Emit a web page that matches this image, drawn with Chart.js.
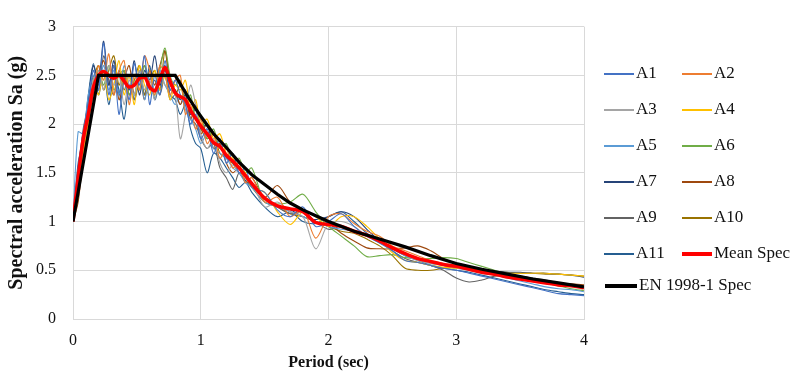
<!DOCTYPE html>
<html>
<head>
<meta charset="utf-8">
<title>Response spectra</title>
<script src="https://cdn.jsdelivr.net/npm/chart.js@4.4.0/dist/chart.umd.min.js"></script>
<style>
  body { margin: 0; background: #fff; }
  #wrap { position: relative; width: 792px; height: 374px; }
  #legend { position: absolute; left: 0; top: 0; font-family: "Liberation Serif", serif; font-size: 17px; color: #111; }
  .item { position: absolute; height: 20px; line-height: 20px; white-space: nowrap; }
  .item span.line { display: inline-block; vertical-align: middle; margin-right: 2px; }
</style>
</head>
<body>
<div id="wrap">
  <canvas id="spectra"></canvas>
  <div id="legend"></div>
</div>
<script>
// periods (sec) shared by the records and the mean spectrum
var periods = [0, 0.04, 0.08, 0.12, 0.16, 0.2, 0.24, 0.28, 0.32, 0.36,
  0.4, 0.44, 0.48, 0.52, 0.56, 0.6, 0.64, 0.68, 0.72, 0.76,
  0.8, 0.84, 0.88, 0.92, 0.96, 1.0, 1.05, 1.1, 1.15, 1.2,
  1.25, 1.3, 1.35, 1.4, 1.5, 1.6, 1.7, 1.8, 1.9, 2.0,
  2.1, 2.2, 2.3, 2.4, 2.5, 2.6, 2.7, 2.8, 2.9, 3.0,
  3.1, 3.2, 3.3, 3.4, 3.5, 3.6, 3.7, 3.8, 3.9, 4.0];

var recordNames = ["A1", "A2", "A3", "A4", "A5", "A6", "A7", "A8", "A9", "A10", "A11"];

var A1 = [1.0, 1.55, 1.92, 2.2, 2.55, 2.35, 2.83, 2.3, 2.6, 2.1,
  2.45, 2.25, 2.62, 2.4, 2.7, 2.2, 2.5, 2.3, 2.65, 2.35,
  2.45, 2.3, 2.2, 2.0, 2.1, 1.85, 1.95, 1.7, 1.85, 1.6,
  1.7, 1.5, 1.55, 1.35, 1.3, 1.12, 1.05, 1.15, 0.95, 1.0,
  1.08, 0.95, 0.85, 0.78, 0.7, 0.6, 0.58, 0.55, 0.52, 0.5,
  0.47, 0.44, 0.41, 0.38, 0.35, 0.32, 0.29, 0.26, 0.25, 0.24];
var A2 = [1.0, 1.3, 1.75, 2.05, 2.3, 2.6, 2.45, 2.72, 2.3, 2.55,
  2.65, 2.2, 2.5, 2.35, 2.7, 2.55, 2.3, 2.6, 2.5, 2.3,
  2.45, 2.5, 2.1, 2.2, 1.95, 2.05, 1.8, 1.9, 1.65, 1.75,
  1.55, 1.6, 1.4, 1.45, 1.2, 1.25, 1.05, 1.12, 0.83, 1.05,
  1.08, 0.98, 0.9, 0.85, 0.75, 0.7, 0.65, 0.6, 0.57, 0.55,
  0.52, 0.5, 0.47, 0.45, 0.42, 0.4, 0.38, 0.37, 0.35, 0.34];
var A3 = [1.0, 1.4, 1.8, 2.15, 2.45, 2.55, 2.35, 2.6, 2.4, 2.5,
  2.2, 2.45, 2.3, 2.55, 2.35, 2.45, 2.25, 2.5, 2.4, 2.35,
  2.3, 1.85, 2.1, 2.4, 2.2, 1.9, 1.75, 1.85, 1.6, 1.5,
  1.58, 1.5, 1.45, 1.4, 1.15, 1.2, 1.1, 1.05, 0.72, 0.98,
  1.0, 0.95, 0.85, 0.8, 0.74, 0.66, 0.6, 0.57, 0.55, 0.53,
  0.5, 0.48, 0.46, 0.44, 0.42, 0.4, 0.38, 0.36, 0.35, 0.34];
var A4 = [1.0, 1.25, 1.7, 2.0, 2.4, 2.3, 2.55, 2.25, 2.4, 2.65,
  2.3, 2.5, 2.2, 2.6, 2.4, 2.3, 2.55, 2.35, 2.5, 2.25,
  2.4, 2.35, 2.45, 2.15, 2.25, 2.0, 2.05, 1.85, 1.9, 1.7,
  1.65, 1.55, 1.5, 1.35, 1.3, 1.1, 0.97, 1.1, 1.05, 0.95,
  1.05, 1.05, 0.95, 0.82, 0.68, 0.6, 0.58, 0.55, 0.53, 0.52,
  0.52, 0.5, 0.48, 0.47, 0.47, 0.47, 0.47, 0.46, 0.45, 0.44];
var A5 = [1.0, 1.92, 1.9, 2.3, 2.5, 2.4, 2.6, 2.35, 2.55, 2.3,
  2.6, 2.4, 2.3, 2.55, 2.25, 2.5, 2.35, 2.55, 2.4, 2.3,
  2.2, 2.3, 2.15, 2.05, 1.95, 1.8, 1.9, 1.75, 1.7, 1.65,
  1.55, 1.5, 1.4, 1.35, 1.2, 1.15, 1.1, 1.05, 1.0, 0.95,
  0.92, 0.9, 0.85, 0.78, 0.72, 0.65, 0.6, 0.57, 0.55, 0.52,
  0.5, 0.47, 0.45, 0.42, 0.39, 0.36, 0.33, 0.31, 0.3, 0.28];
var A6 = [1.0, 1.35, 1.8, 2.1, 2.35, 2.55, 2.4, 2.6, 2.35, 2.5,
  2.55, 2.3, 2.45, 2.35, 2.6, 2.4, 2.3, 2.55, 2.78, 2.5,
  2.4, 2.45, 2.2, 2.3, 2.05, 2.1, 1.85, 1.95, 1.75, 1.8,
  1.6, 1.65, 1.5, 1.55, 1.2, 1.18, 1.2, 1.28, 1.1, 0.95,
  0.85, 0.75, 0.64, 0.65, 0.66, 0.63, 0.62, 0.62, 0.63, 0.62,
  0.58, 0.54, 0.5, 0.46, 0.43, 0.4, 0.37, 0.34, 0.31, 0.29];
var A7 = [1.0, 1.45, 1.85, 2.25, 2.6, 2.45, 2.85, 2.4, 2.65, 2.3,
  2.5, 2.35, 2.65, 2.3, 2.55, 2.45, 2.7, 2.4, 2.55, 2.35,
  2.35, 2.25, 2.3, 2.1, 2.15, 1.95, 2.0, 1.8, 1.78, 1.65,
  1.6, 1.5, 1.42, 1.38, 1.25, 1.15, 1.12, 1.05, 1.02, 1.05,
  1.1, 1.05, 0.92, 0.8, 0.72, 0.66, 0.62, 0.58, 0.55, 0.53,
  0.52, 0.5, 0.49, 0.48, 0.48, 0.47, 0.47, 0.46, 0.45, 0.43];
var A8 = [1.0, 1.2, 1.65, 2.0, 2.35, 2.5, 2.65, 2.4, 2.6, 2.25,
  2.45, 2.6, 2.3, 2.5, 2.25, 2.55, 2.4, 2.6, 2.75, 2.4,
  2.35, 2.2, 2.35, 2.05, 2.2, 1.9, 2.0, 1.75, 1.8, 1.6,
  1.5, 1.55, 1.4, 1.45, 1.25, 1.37, 1.2, 1.12, 1.0, 0.98,
  0.88, 0.8, 0.73, 0.72, 0.72, 0.73, 0.75, 0.7, 0.62, 0.56,
  0.53, 0.5, 0.47, 0.45, 0.43, 0.41, 0.39, 0.37, 0.36, 0.35];
var A9 = [1.0, 1.5, 1.95, 2.2, 2.5, 2.35, 2.7, 2.45, 2.3, 2.55,
  2.35, 2.5, 2.25, 2.45, 2.6, 2.35, 2.45, 2.3, 2.5, 2.25,
  2.3, 2.2, 2.3, 2.05, 2.0, 1.85, 1.75, 1.8, 1.55, 1.45,
  1.33, 1.5, 1.42, 1.35, 1.25, 1.15, 1.08, 1.1, 1.0, 0.92,
  0.95, 0.9, 0.86, 0.8, 0.7, 0.62, 0.58, 0.55, 0.5, 0.42,
  0.38, 0.4, 0.44, 0.45, 0.44, 0.42, 0.4, 0.37, 0.35, 0.33];
var A10 = [1.0, 1.3, 1.75, 2.05, 2.45, 2.6, 2.35, 2.55, 2.7, 2.4,
  2.55, 2.3, 2.45, 2.6, 2.3, 2.45, 2.55, 2.35, 2.75, 2.45,
  2.3, 2.4, 2.2, 2.25, 2.05, 1.95, 1.85, 1.9, 1.7, 1.65,
  1.6, 1.5, 1.45, 1.35, 1.2, 1.15, 1.08, 1.05, 1.0, 0.95,
  0.9, 0.88, 0.82, 0.75, 0.65, 0.52, 0.5, 0.5, 0.52, 0.53,
  0.52, 0.5, 0.49, 0.48, 0.47, 0.47, 0.46, 0.46, 0.45, 0.44];
var A11 = [1.0, 1.6, 1.85, 2.3, 2.62, 2.3, 2.55, 2.2, 2.5, 2.35,
  2.05, 2.4, 2.25, 2.55, 2.3, 2.6, 2.25, 2.45, 2.6, 2.3,
  2.25, 2.1, 2.2, 1.95, 1.8, 1.75, 1.5, 1.7, 1.65, 1.55,
  1.45, 1.35, 1.4, 1.3, 1.15, 1.05, 1.1, 1.0, 0.98, 1.05,
  1.1, 1.0, 0.88, 0.8, 0.72, 0.65, 0.6, 0.55, 0.52, 0.5,
  0.48, 0.45, 0.42, 0.39, 0.36, 0.33, 0.3, 0.28, 0.26, 0.25];

var meanSpec = [1.0, 1.45, 1.85, 2.1, 2.38, 2.5, 2.54, 2.5, 2.47, 2.5,
  2.44, 2.38, 2.4, 2.47, 2.48, 2.38, 2.34, 2.46, 2.58, 2.44,
  2.32, 2.28, 2.25, 2.14, 2.06, 1.98, 1.9, 1.81, 1.77, 1.68,
  1.62, 1.55, 1.47, 1.39, 1.24, 1.16, 1.13, 1.1, 0.99, 0.97,
  0.95, 0.9, 0.86, 0.8, 0.73, 0.67, 0.62, 0.59, 0.56, 0.54,
  0.51, 0.48, 0.46, 0.43, 0.41, 0.39, 0.37, 0.35, 0.34, 0.32];

// EN 1998-1 design spectrum
var ecPeriods = [0, 0.2, 0.8, 0.9, 1.0, 1.1, 1.2, 1.3, 1.4, 1.5, 1.6, 1.7, 1.8, 1.9, 2.0,
  2.2, 2.4, 2.6, 2.8, 3.0, 3.2, 3.4, 3.6, 3.8, 4.0];
var ecSpec = [1.0, 2.5, 2.5, 2.28, 2.08, 1.9, 1.76, 1.61, 1.48, 1.38, 1.28, 1.19, 1.12, 1.06, 1.0,
  0.9, 0.82, 0.74, 0.65, 0.57, 0.51, 0.46, 0.41, 0.37, 0.33];

var xTicks = [0, 1, 2, 3, 4];
var yTicks = [0, 0.5, 1, 1.5, 2, 2.5, 3];

var records = [A1, A2, A3, A4, A5, A6, A7, A8, A9, A10, A11];
var recordColors = ['#4472C4', '#ED7D31', '#A5A5A5', '#FFC000', '#5B9BD5', '#70AD47',
  '#264478', '#9E480E', '#636363', '#997300', '#255E91'];

function points(xs, ys) {
  return xs.map(function (x, i) { return { x: x, y: ys[i] }; });
}

var datasets = records.map(function (r, i) {
  return {
    label: recordNames[i],
    data: points(periods, r),
    borderColor: recordColors[i],
    borderWidth: 1.1,
    pointRadius: 0,
    tension: 0.3,
    order: 3
  };
});
datasets.push({
  label: 'Mean Spec',
  data: points(periods, meanSpec),
  borderColor: '#FF0000',
  borderWidth: 3.5,
  pointRadius: 0,
  cubicInterpolationMode: 'monotone',
  order: 2
});
datasets.push({
  label: 'EN 1998-1 Spec',
  data: points(ecPeriods, ecSpec),
  borderColor: '#000000',
  borderWidth: 3.2,
  pointRadius: 0,
  tension: 0,
  order: 1
});

var serif = "'Liberation Serif', 'Times New Roman', serif";
var ctx = document.getElementById('spectra');

var chart = new Chart(ctx, {
  type: 'line',
  data: { datasets: datasets },
  options: {
    responsive: true,
    maintainAspectRatio: false,
    animation: false,
    layout: { padding: { left: 0, top: 17, right: 208, bottom: 0 } },
    plugins: {
      legend: { display: false },
      tooltip: { enabled: false }
    },
    scales: {
      x: {
        type: 'linear',
        min: 0,
        max: 4,
        afterFit: function (scale) { scale.height = 55; },
        afterBuildTicks: function (scale) {
          scale.ticks = xTicks.map(function (v) { return { value: v }; });
        },
        grid: { color: '#D9D9D9', lineWidth: 1, drawTicks: false },
        border: { color: '#D9D9D9' },
        ticks: {
          padding: 12, color: '#111', font: { family: serif, size: 16 },
          callback: function (v) { return String(v); }
        },
        title: {
          display: true,
          text: 'Period (sec)',
          color: '#111',
          font: { family: serif, size: 16, weight: 'bold' },
          padding: { top: 0, bottom: 2 }
        }
      },
      y: {
        min: 0,
        max: 3,
        afterFit: function (scale) { scale.width = 73; },
        afterBuildTicks: function (scale) {
          scale.ticks = yTicks.map(function (v) { return { value: v }; });
        },
        grid: { color: '#D9D9D9', lineWidth: 1, drawTicks: false },
        border: { color: '#D9D9D9' },
        ticks: {
          padding: 17, color: '#111', font: { family: serif, size: 16 },
          callback: function (v) { return String(v); }
        },
        title: {
          display: true,
          text: 'Spectral acceleration Sa (g)',
          color: '#111',
          font: { family: serif, size: 20, weight: 'bold' },
          padding: { top: 5, bottom: 0 }
        }
      }
    }
  }
});

// two-column legend beside the plot
var legend = document.getElementById('legend');
chart.data.datasets.forEach(function (ds, i) {
  var last = i === chart.data.datasets.length - 1;
  var col = last ? 0 : i % 2;
  var row = Math.floor(i / 2);
  var item = document.createElement('div');
  item.className = 'item';
  item.style.left = (last ? 605 : (col === 0 ? 604 : 682)) + 'px';
  item.style.top = (last ? 275 : 63 + row * 36) + 'px';
  var line = document.createElement('span');
  line.className = 'line';
  line.style.width = (last ? 32 : 30) + 'px';
  line.style.height = (ds.borderWidth > 2 ? 4 : 2) + 'px';
  line.style.background = ds.borderColor;
  item.appendChild(line);
  item.appendChild(document.createTextNode(ds.label));
  legend.appendChild(item);
});
</script>
</body>
</html>
